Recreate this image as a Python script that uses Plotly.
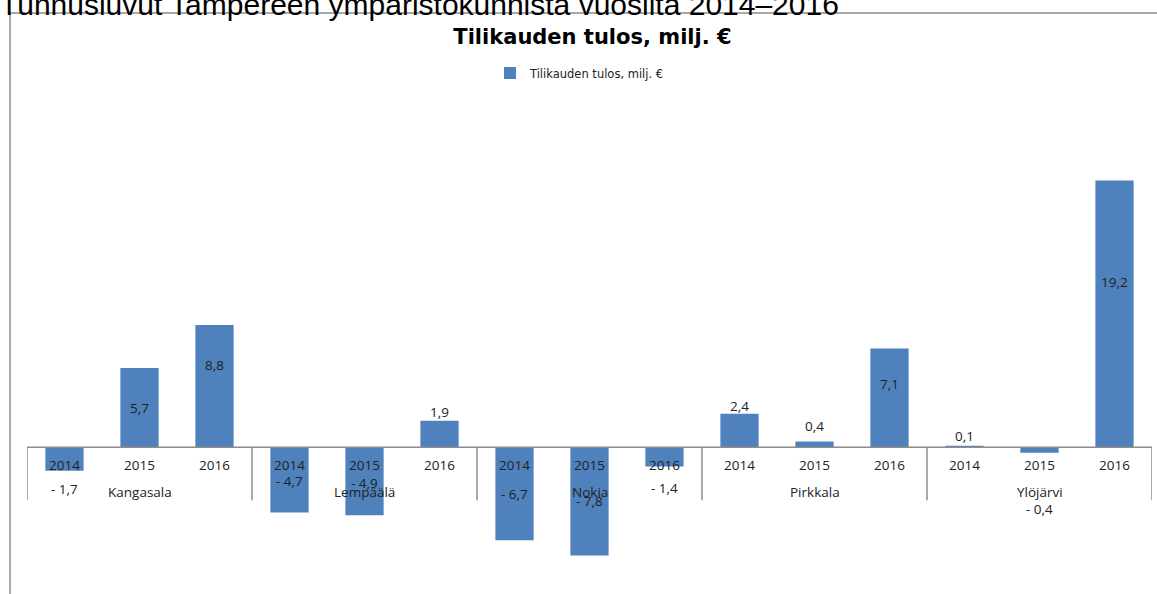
import plotly.graph_objects as go

# ---- data ----
municipalities = ["Kangasala", "Lempäälä", "Nokia", "Pirkkala", "Ylöjärvi"]
years = ["2014", "2015", "2016"]
values = [-1.7, 5.7, 8.8,
          -4.7, -4.9, 1.9,
          -6.7, -7.8, -1.4,
          2.4, 0.4, 7.1,
          0.1, -0.4, 19.2]
series_name = "Tilikauden tulos, milj. €"
chart_title = "Tilikauden tulos, milj. €"
page_heading = "Tunnusluvut Tampereen ympäristökunnista vuosilta 2014–2016"

# label offsets (px, style only)
label_yshift = [-18, -40, -40, 31, 32, 9, 46, 54, -21, 8, 16, -35, 10, -56, -101]

categories = [f"{m} {y}" for m in municipalities for y in years]


def fmt(v):
    s = f"{abs(v):.1f}".replace(".", ",")
    return f"- {s}" if v < 0 else s


BAR = "#4F81BD"
AXIS = "#8C8C8C"
TXT = "#222222"
LABEL_FONT = "Open Sans"
LABEL_SIZE = 13.5

Y_RANGE = [-10, 25]
M_L, M_R, M_T, M_B = 27, 5, 100, 8
W, H = 1157, 594
plot_h = H - M_T - M_B
plot_w = W - M_L - M_R
units_per_px = (Y_RANGE[1] - Y_RANGE[0]) / plot_h

fig = go.Figure()
fig.add_trace(go.Bar(
    x=categories, y=values, name=series_name,
    marker=dict(color=BAR, line=dict(width=0)),
    showlegend=True,
))

annotations = []
# data labels
for c, v, dy in zip(categories, values, label_yshift):
    annotations.append(dict(x=c, y=v, xref="x", yref="y", text=fmt(v),
                            showarrow=False, yshift=dy, yanchor="middle",
                            font=dict(family=LABEL_FONT, size=LABEL_SIZE, color=TXT)))
# year labels
for c, y in zip(categories, [y for m in municipalities for y in years]):
    annotations.append(dict(x=c, y=0, xref="x", yref="y", text=y,
                            showarrow=False, yshift=-18, yanchor="middle",
                            font=dict(family=LABEL_FONT, size=LABEL_SIZE, color=TXT)))
# group labels
for m in municipalities:
    annotations.append(dict(x=f"{m} {years[1]}", y=0, xref="x", yref="y", text=m,
                            showarrow=False, yshift=-45, yanchor="middle",
                            font=dict(family=LABEL_FONT, size=LABEL_SIZE, color=TXT)))
# page heading (cut at top like the reference)
annotations.append(dict(x=(-2 - M_L) / plot_w, y=1 + (M_T - 5) / plot_h,
                        xref="paper", yref="paper", text=page_heading,
                        showarrow=False, xanchor="left", yanchor="middle",
                        font=dict(family="Liberation Sans, Arial", size=30, color="#000000")))

shapes = []
# chart border
shapes.append(dict(type="rect", xref="paper", yref="paper",
                   x0=(10 - M_L) / plot_w, x1=1.2,
                   y0=-0.2, y1=1 + (M_T - 13) / plot_h,
                   line=dict(color=AXIS, width=1.5), fillcolor="rgba(0,0,0,0)", layer="below"))
# zero axis line
shapes.append(dict(type="line", xref="x", yref="y", x0=-0.5, x1=len(categories) - 0.5,
                   y0=0, y1=0, line=dict(color=AXIS, width=1.5), layer="above"))
# group separators
sep_len = 53 * units_per_px
for i in range(len(municipalities) + 1):
    xb = i * len(years) - 0.5
    shapes.append(dict(type="line", xref="x", yref="y", x0=xb, x1=xb,
                       y0=0, y1=-sep_len, line=dict(color=AXIS, width=1.5)))

fig.update_layout(
    width=W, height=H,
    margin=dict(l=M_L, r=M_R, t=M_T, b=M_B, pad=0),
    paper_bgcolor="white", plot_bgcolor="white",
    bargap=0.49,
    title=dict(text=f"<b>{chart_title}</b>", x=(592.5 - M_L) / plot_w, xref="paper",
               xanchor="center", y=1 - 37 / H, yanchor="middle",
               font=dict(family="DejaVu Sans", size=21, color="#000000")),
    legend=dict(orientation="h", x=(490 - M_L) / plot_w, xanchor="left",
                y=1 + (M_T - 73) / plot_h, yanchor="middle",
                font=dict(family="DejaVu Sans", size=11.5, color=TXT),
                itemwidth=30, bgcolor="rgba(0,0,0,0)"),
    xaxis=dict(type="category", showticklabels=False, showgrid=False, zeroline=False,
               showline=False, ticks="", range=[-0.5, len(categories) - 0.5], fixedrange=True),
    yaxis=dict(range=Y_RANGE, showticklabels=False, showgrid=False, zeroline=False,
               showline=False, ticks="", fixedrange=True),
    annotations=annotations,
    shapes=shapes,
    showlegend=True,
)

fig.write_html("out.html", config={"displayModeBar": False},
               post_script="document.body.style.margin='0';")
